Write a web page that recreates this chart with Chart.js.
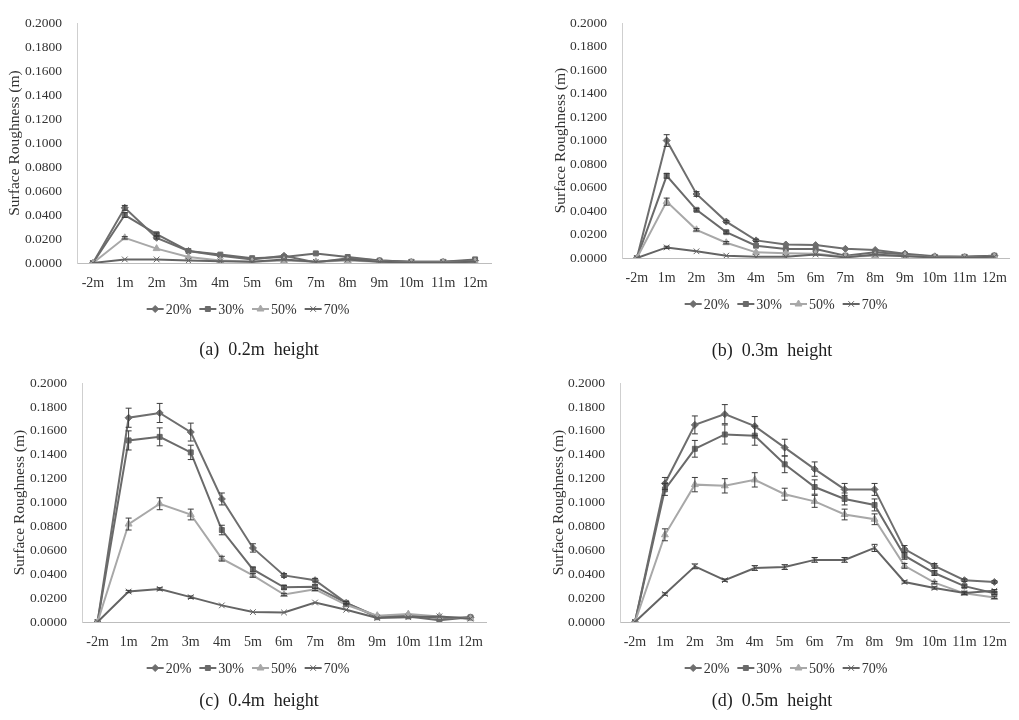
<!DOCTYPE html>
<html lang="en">
<head>
    <meta charset="UTF-8">
    <title>Surface Roughness</title>
    <script src="https://cdn.jsdelivr.net/npm/chart.js"></script>
    <style>
        body { margin: 0; background: #fff; }
        #wrap { position: relative; width: 1019px; height: 720px; overflow: hidden; }
        canvas { position: absolute; }
        .cap {
            position: absolute; white-space: pre; font-family: "Liberation Serif", serif;
            font-size: 18px; color: #1e1e1e; transform: translate(-50%, -50%);
        }
    </style>
</head>
<body>
<div id="wrap">
    <canvas id="ca" width="509" height="360" style="left:0;top:0"></canvas>
    <canvas id="cb" width="510" height="360" style="left:509px;top:0"></canvas>
    <canvas id="cc" width="509" height="360" style="left:0;top:360px"></canvas>
    <canvas id="cd" width="510" height="360" style="left:509px;top:360px"></canvas>
    <div class="cap" style="left:259px;top:349px">(a)  0.2m  height</div>
    <div class="cap" style="left:772px;top:350px">(b)  0.3m  height</div>
    <div class="cap" style="left:259px;top:700px">(c)  0.4m  height</div>
    <div class="cap" style="left:772px;top:700px">(d)  0.5m  height</div>
</div>

<script>
    // categories / series
    const cats = ['-2m', '1m', '2m', '3m', '4m', '5m', '6m', '7m', '8m', '9m', '10m', '11m', '12m'];
    const seriesNames = ['20%', '30%', '50%', '70%'];
    const yTicks = [0, 0.02, 0.04, 0.06, 0.08, 0.10, 0.12, 0.14, 0.16, 0.18, 0.20];

    // (a) 0.2m height
    const a20 = [0, 0.046, 0.021, 0.010, 0.006, 0.003, 0.006, 0.0005, 0.004, 0.002, 0.001, 0.001, 0.002];
    const a30 = [0, 0.040, 0.024, 0.010, 0.007, 0.004, 0.005, 0.008, 0.005, 0.002, 0.001, 0.001, 0.003];
    const a50 = [0, 0.021, 0.012, 0.005, 0.002, 0.001, 0.002, 0.001, 0.002, 0.001, 0.0005, 0.0005, 0.001];
    const a70 = [0, 0.003, 0.003, 0.002, 0.0015, 0.001, 0.003, 0.001, 0.003, 0.001, 0.0005, 0.0005, 0.001];
    const aE20 = [0, 0.002, 0.001, 0, 0, 0, 0, 0, 0, 0, 0, 0, 0];
    const aE30 = [0, 0.002, 0.001, 0, 0, 0, 0, 0, 0, 0, 0, 0, 0];
    const aE50 = [0, 0.001, 0, 0, 0, 0, 0, 0, 0, 0, 0, 0, 0];
    const aE70 = [0, 0, 0, 0, 0, 0, 0, 0, 0, 0, 0, 0, 0];

    // (b) 0.3m height
    const b20 = [0, 0.100, 0.0545, 0.031, 0.015, 0.0115, 0.011, 0.0078, 0.0068, 0.0037, 0.0014, 0.001, 0.002];
    const b30 = [0, 0.070, 0.041, 0.022, 0.0105, 0.0077, 0.0077, 0.002, 0.0048, 0.003, 0.001, 0.001, 0.002];
    const b50 = [0, 0.048, 0.024, 0.013, 0.0048, 0.004, 0.0037, 0.001, 0.002, 0.002, 0.0005, 0.0005, 0.001];
    const b70 = [0, 0.009, 0.0057, 0.002, 0.001, 0.001, 0.003, 0.0005, 0.003, 0.0015, 0.0005, 0.0005, 0.001];
    const bE20 = [0, 0.005, 0.002, 0.001, 0.001, 0, 0, 0, 0, 0, 0, 0, 0];
    const bE30 = [0, 0.002, 0.001, 0.001, 0, 0, 0, 0, 0, 0, 0, 0, 0];
    const bE50 = [0, 0.003, 0.001, 0.001, 0, 0, 0, 0, 0, 0, 0, 0, 0];
    const bE70 = [0, 0.001, 0, 0, 0, 0, 0, 0, 0, 0, 0, 0, 0];

    // (c) 0.4m height
    const c20 = [0, 0.171, 0.175, 0.159, 0.103, 0.062, 0.039, 0.035, 0.016, 0.0047, 0.006, 0.0033, 0.0039];
    const c30 = [0, 0.152, 0.155, 0.142, 0.077, 0.044, 0.029, 0.0296, 0.016, 0.004, 0.0047, 0.0014, 0.0039];
    const c50 = [0, 0.082, 0.099, 0.090, 0.053, 0.039, 0.023, 0.0274, 0.0144, 0.0053, 0.0066, 0.0047, 0.0028];
    const c70 = [0, 0.0255, 0.0277, 0.0208, 0.0139, 0.0083, 0.008, 0.0163, 0.0102, 0.0033, 0.004, 0.0047, 0.0028];
    const cE20 = [0, 0.008, 0.008, 0.0075, 0.005, 0.0035, 0.0015, 0.0015, 0.001, 0, 0, 0, 0];
    const cE30 = [0, 0.008, 0.0075, 0.006, 0.004, 0.002, 0.0015, 0.0015, 0.001, 0, 0, 0, 0];
    const cE50 = [0, 0.005, 0.005, 0.0045, 0.002, 0.0015, 0.001, 0.001, 0.001, 0, 0, 0, 0];
    const cE70 = [0, 0.001, 0.001, 0.001, 0, 0, 0, 0, 0, 0, 0, 0, 0];

    // (d) 0.5m height
    const d20 = [0, 0.116, 0.165, 0.174, 0.164, 0.146, 0.128, 0.111, 0.111, 0.061, 0.047, 0.035, 0.0335];
    const d30 = [0, 0.111, 0.145, 0.157, 0.156, 0.132, 0.113, 0.103, 0.098, 0.0555, 0.041, 0.030, 0.024];
    const d50 = [0, 0.073, 0.115, 0.114, 0.119, 0.107, 0.101, 0.090, 0.086, 0.047, 0.033, 0.024, 0.0206];
    const d70 = [0, 0.0234, 0.0466, 0.035, 0.0452, 0.046, 0.052, 0.052, 0.062, 0.0335, 0.0285, 0.0243, 0.0262];
    const dE20 = [0, 0.005, 0.0075, 0.008, 0.008, 0.007, 0.006, 0.005, 0.005, 0.003, 0.002, 0.001, 0.001];
    const dE30 = [0, 0.005, 0.007, 0.008, 0.008, 0.007, 0.006, 0.005, 0.005, 0.003, 0.002, 0.001, 0.001];
    const dE50 = [0, 0.005, 0.006, 0.006, 0.006, 0.005, 0.005, 0.0045, 0.0045, 0.002, 0.001, 0.001, 0.001];
    const dE70 = [0, 0.001, 0.002, 0.001, 0.002, 0.002, 0.002, 0.002, 0.003, 0.001, 0.001, 0.001, 0.001];

    const FONT = '"Liberation Serif", "Times New Roman", serif';
    const styles = [
        { color: '#6e6e6e', point: 'rectRot', r: 3.5 },
        { color: '#6a6a6a', point: 'rect', r: 3.5 },
        { color: '#a8a8a8', point: 'triangle', r: 4 },
        { color: '#646464', point: 'crossRot', r: 4 }
    ];

    // error bars drawn from each dataset's "errors" array
    const errorBars = {
        id: 'errorBars',
        afterDatasetsDraw(chart) {
            const ctx = chart.ctx;
            const y = chart.scales.y;
            ctx.save();
            ctx.strokeStyle = '#3c3c3c';
            ctx.lineWidth = 1;
            chart.data.datasets.forEach((ds, di) => {
                const meta = chart.getDatasetMeta(di);
                ds.errors.forEach((e, i) => {
                    if (!e) return;
                    const px = meta.data[i].x;
                    const top = y.getPixelForValue(ds.data[i] + e);
                    const bot = y.getPixelForValue(ds.data[i] - e);
                    ctx.beginPath();
                    ctx.moveTo(px, top); ctx.lineTo(px, bot);
                    ctx.moveTo(px - 3, top); ctx.lineTo(px + 3, top);
                    ctx.moveTo(px - 3, bot); ctx.lineTo(px + 3, bot);
                    ctx.stroke();
                });
            });
            ctx.restore();
        }
    };

    // legend: short line with marker, then label
    const lineLegend = {
        id: 'lineLegend',
        afterDraw(chart, args, opts) {
            const ctx = chart.ctx;
            ctx.save();
            ctx.font = '14px ' + FONT;
            ctx.textBaseline = 'middle';
            const lineW = 17, gap = 8;
            const widths = seriesNames.map(n => lineW + 2 + ctx.measureText(n).width);
            const total = widths.reduce((s, w) => s + w, 0) + gap * (widths.length - 1);
            let x = opts.cx - total / 2;
            const yy = chart.chartArea.bottom + 46;
            seriesNames.forEach((n, i) => {
                const st = styles[i];
                ctx.strokeStyle = st.color;
                ctx.fillStyle = st.color;
                ctx.lineWidth = 2;
                ctx.beginPath();
                ctx.moveTo(x, yy); ctx.lineTo(x + lineW, yy);
                ctx.stroke();
                ctx.lineWidth = 1;
                Chart.helpers.drawPoint(ctx, { pointStyle: st.point, radius: st.r, rotation: 0, borderWidth: 1 }, x + lineW / 2, yy);
                ctx.fillStyle = '#333';
                ctx.fillText(n, x + lineW + 2, yy + 1);
                x += widths[i] + gap;
            });
            ctx.restore();
        }
    };

    function makeChart(id, values, errors, lay) {
        const datasets = values.map((v, i) => ({
            label: seriesNames[i],
            data: v,
            errors: errors[i],
            borderColor: styles[i].color,
            backgroundColor: styles[i].color,
            borderWidth: 2,
            pointStyle: styles[i].point,
            pointRadius: styles[i].r,
            pointBorderWidth: 1,
            tension: 0,
            order: 4 - i
        }));
        return new Chart(document.getElementById(id), {
            type: 'line',
            data: { labels: cats, datasets },
            plugins: [errorBars, lineLegend],
            options: {
                responsive: false,
                devicePixelRatio: 1,
                animation: false,
                layout: { padding: { left: 0, top: lay.top, right: lay.right, bottom: lay.bottom } },
                plugins: {
                    legend: { display: false },
                    tooltip: { enabled: false },
                    lineLegend: { cx: lay.legendX }
                },
                scales: {
                    x: {
                        type: 'category',
                        offset: true,
                        grid: { display: false, drawTicks: false },
                        border: { color: '#bdbdbd', width: 1 },
                        ticks: { color: '#333', font: { family: FONT, size: 14 }, padding: 12, autoSkip: false, maxRotation: 0 },
                        afterFit(s) { s.height = 60; }
                    },
                    y: {
                        min: 0,
                        max: 0.2,
                        afterBuildTicks(s) { s.ticks = yTicks.map(v => ({ value: v })); },
                        grid: { display: false, drawTicks: false },
                        border: { color: '#cfcfcf', width: 1 },
                        ticks: {
                            color: '#333', font: { family: FONT, size: 13.5 }, padding: 15,
                            callback: v => v.toFixed(4)
                        },
                        title: {
                            display: true, text: 'Surface Roughness (m)', color: '#333',
                            font: { family: FONT, size: 15.5 }, padding: { top: lay.titlePad, bottom: 0 }
                        },
                        afterFit(s) { s.width = lay.left; }
                    }
                }
            }
        });
    }

    makeChart('ca', [a20, a30, a50, a70], [aE20, aE30, aE50, aE70],
        { left: 77, top: 17, right: 18, bottom: 37, titlePad: 6, legendX: 248 });
    makeChart('cb', [b20, b30, b50, b70], [bE20, bE30, bE50, bE70],
        { left: 113, top: 23, right: 2, bottom: 42, titlePad: 43, legendX: 277 });
    makeChart('cc', [c20, c30, c50, c70], [cE20, cE30, cE50, cE70],
        { left: 82, top: 22, right: 23, bottom: 38, titlePad: 11, legendX: 248 });
    makeChart('cd', [d20, d30, d50, d70], [dE20, dE30, dE50, dE70],
        { left: 111, top: 23, right: 0, bottom: 38, titlePad: 41, legendX: 277 });
</script>
</body>
</html>
